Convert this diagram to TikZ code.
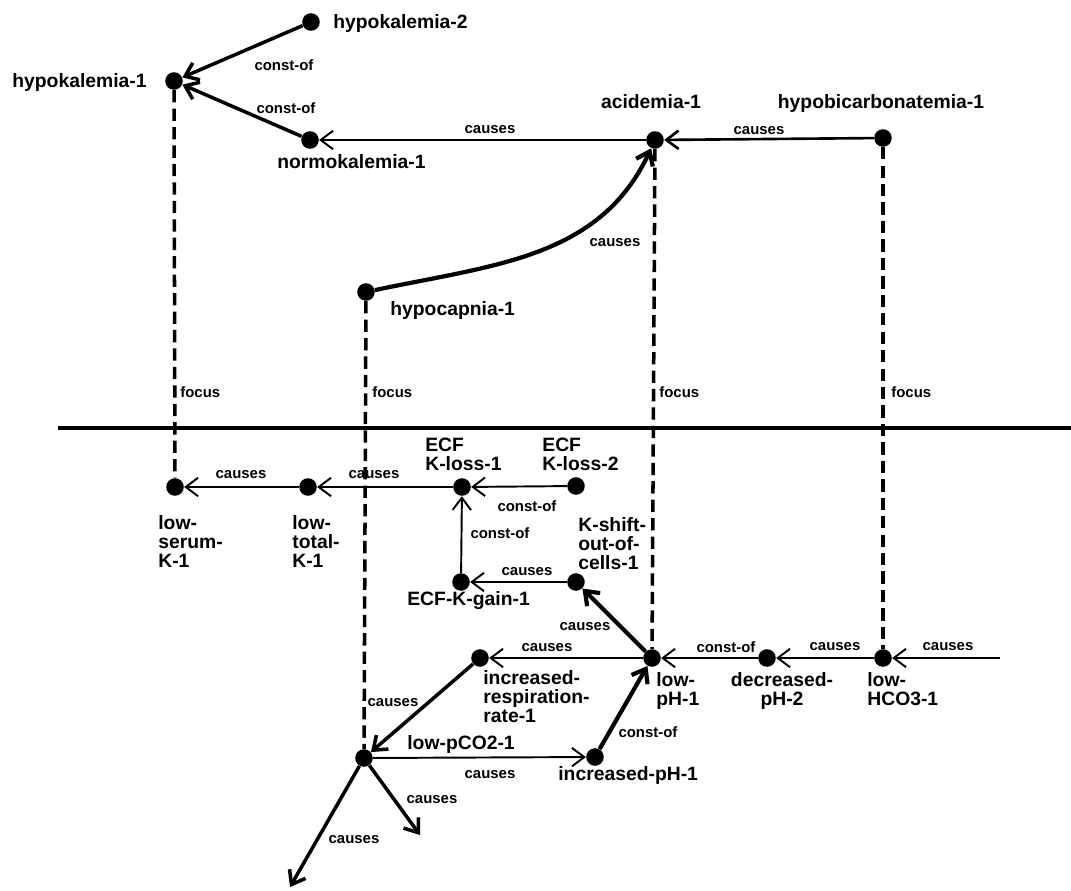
\documentclass[tikz,border=0pt]{standalone}
\usepackage{fontspec}
\setmainfont{Liberation Sans}
\usetikzlibrary{arrows.meta,positioning}
\tikzset{
  dot/.style={circle, fill=black, inner sep=0pt, minimum size=10pt},
  lbl/.style={font=\fontsize{11}{10.8}\selectfont\bfseries, inner sep=0pt, align=left},
  elbl/.style={font=\fontsize{8.5}{9}\selectfont\bfseries, inner sep=0pt},
  rel/.style={line width=1.1pt, -{Straight Barb[length=7pt,width=10.5pt]}},
  boldrel/.style={rel, line width=2pt},
  focusline/.style={line width=2pt, dash pattern=on 7pt off 3.5pt},
}

\begin{document}
\begin{tikzpicture}[x=0.02cm, y=-0.02cm]
\useasboundingbox (0,0) rectangle (1071,890);
% Upper level
\node[dot] (hk2) at (311,22) {};
\node[dot] (hk1) at (174,81) {};
\node[dot] (nk1) at (310,140) {};
\node[dot] (acid) at (655,140) {};
\node[dot] (hbic) at (883,138) {};
\node[dot] (hcap) at (366,292) {};
\node[lbl, anchor=base west] (hk2-t) at (333,28) {hypokalemia-2};
\node[lbl, anchor=base east] (hk1-t) at (147,87) {hypokalemia-1};
\node[lbl, anchor=base west] (nk1-t) at (277,168) {normokalemia-1};
\node[lbl, anchor=base] (acid-t) at (651,108) {acidemia-1};
\node[lbl, anchor=base] (hbic-t) at (881,108) {hypobicarbonatemia-1};
\node[lbl, anchor=base west] (hcap-t) at (390,315) {hypocapnia-1};
\draw[boldrel] (hk2) -- (hk1);
\draw[boldrel] (nk1) -- (hk1);
\draw[rel] (acid) -- (nk1);
\draw[rel, line width=1.5pt] (hbic) -- (acid);
\draw[boldrel, line width=2.4pt] (hcap) to[out=12, in=-115] (acid);
\node[elbl] (e1) at (284,65) {const-of};
\node[elbl] (e2) at (286,108) {const-of};
\node[elbl] (e3) at (490,130) {causes};
\node[elbl] (e4) at (759,131) {causes};
\node[elbl] (e5) at (615,243) {causes};
% Separator
\draw[line width=1.8pt] (58,428) -- (1071,428);
% Lower level
\node[dot] (lsk) at (175,487) {};
\node[dot] (ltk) at (308,487) {};
\node[dot] (ecfl1) at (462,487) {};
\node[dot] (ecfl2) at (576,486) {};
\node[dot] (ecfg) at (461,582) {};
\node[dot] (kshift) at (576,582) {};
\node[dot] (lph) at (652,658) {};
\node[dot] (decph) at (767,658) {};
\node[dot] (lhco) at (883,658) {};
\node[dot] (irr) at (480,658) {};
\node[dot] (lpco) at (364,758) {};
\node[dot] (iph) at (595,757) {};
\coordinate (in1) at (1000,658);
\coordinate (out1) at (420,835);
\coordinate (out2) at (290,887);
\node[lbl, anchor=north west] (lsk-t) at (158,515) {low-\\serum-\\K-1};
\node[lbl, anchor=north west] (ltk-t) at (292,515) {low-\\total-\\K-1};
\node[lbl, anchor=north west] (ecfl1-t) at (425,438) {ECF\\K-loss-1};
\node[lbl, anchor=north west] (ecfl2-t) at (542,438) {ECF\\K-loss-2};
\node[lbl, anchor=north west] (kshift-t) at (578,517) {K-shift-\\out-of-\\cells-1};
\node[lbl, anchor=base west] (ecfg-t) at (407,605) {ECF-K-gain-1};
\node[lbl, anchor=north west] (irr-t) at (483,670) {increased-\\respiration-\\rate-1};
\node[lbl, anchor=north west] (lph-t) at (656,672) {low-\\pH-1};
\node[lbl, anchor=north, align=center] (decph-t) at (782,672) {decreased-\\pH-2};
\node[lbl, anchor=north west] (lhco-t) at (867,672) {low-\\HCO3-1};
\node[lbl, anchor=base west] (lpco-t) at (407,749) {low-pCO2-1};
\node[lbl, anchor=base west] (iph-t) at (558,780) {increased-pH-1};
\draw[rel] (ltk) -- (lsk);
\draw[rel] (ecfl1) -- (ltk);
\draw[rel] (ecfl2) -- (ecfl1);
\draw[rel] (ecfg) -- (ecfl1);
\draw[rel] (kshift) -- (ecfg);
\draw[boldrel, line width=2.4pt] (lph) -- (kshift);
\draw[rel] (lph) -- (irr);
\draw[rel] (decph) -- (lph);
\draw[rel] (lhco) -- (decph);
\draw[rel] (in1) -- (lhco);
\draw[boldrel] (irr) -- (lpco);
\draw[rel] (lpco) -- (iph);
\draw[boldrel, line width=2.4pt] (iph) -- (lph);
\draw[boldrel] (lpco) -- (out1);
\draw[boldrel] (lpco) -- (out2);
\node[elbl] (e6) at (241,475) {causes};
\node[elbl] (e7) at (374,475) {causes};
\node[elbl] (e8) at (527,506) {const-of};
\node[elbl] (e9) at (500,533) {const-of};
\node[elbl] (e10) at (527,572) {causes};
\node[elbl] (e11) at (585,627) {causes};
\node[elbl] (e12) at (547,648) {causes};
\node[elbl] (e13) at (726,647) {const-of};
\node[elbl] (e14) at (835,647) {causes};
\node[elbl] (e15) at (948,647) {causes};
\node[elbl] (e16) at (393,703) {causes};
\node[elbl] (e17) at (648,732) {const-of};
\node[elbl] (e18) at (490,775) {causes};
\node[elbl] (e19) at (432,800) {causes};
\node[elbl] (e20) at (354,840) {causes};
% Focus links
\draw[focusline] (hk1) -- (lsk);
\draw[focusline] (hcap) -- (lpco);
\draw[focusline] (acid) -- (lph);
\draw[focusline] (hbic) -- (lhco);
\node[elbl, anchor=west] (f1) at (180,392) {focus};
\node[elbl, anchor=west] (f2) at (372,392) {focus};
\node[elbl, anchor=west] (f3) at (659,392) {focus};
\node[elbl, anchor=west] (f4) at (891,392) {focus};
\end{tikzpicture}
\end{document}
